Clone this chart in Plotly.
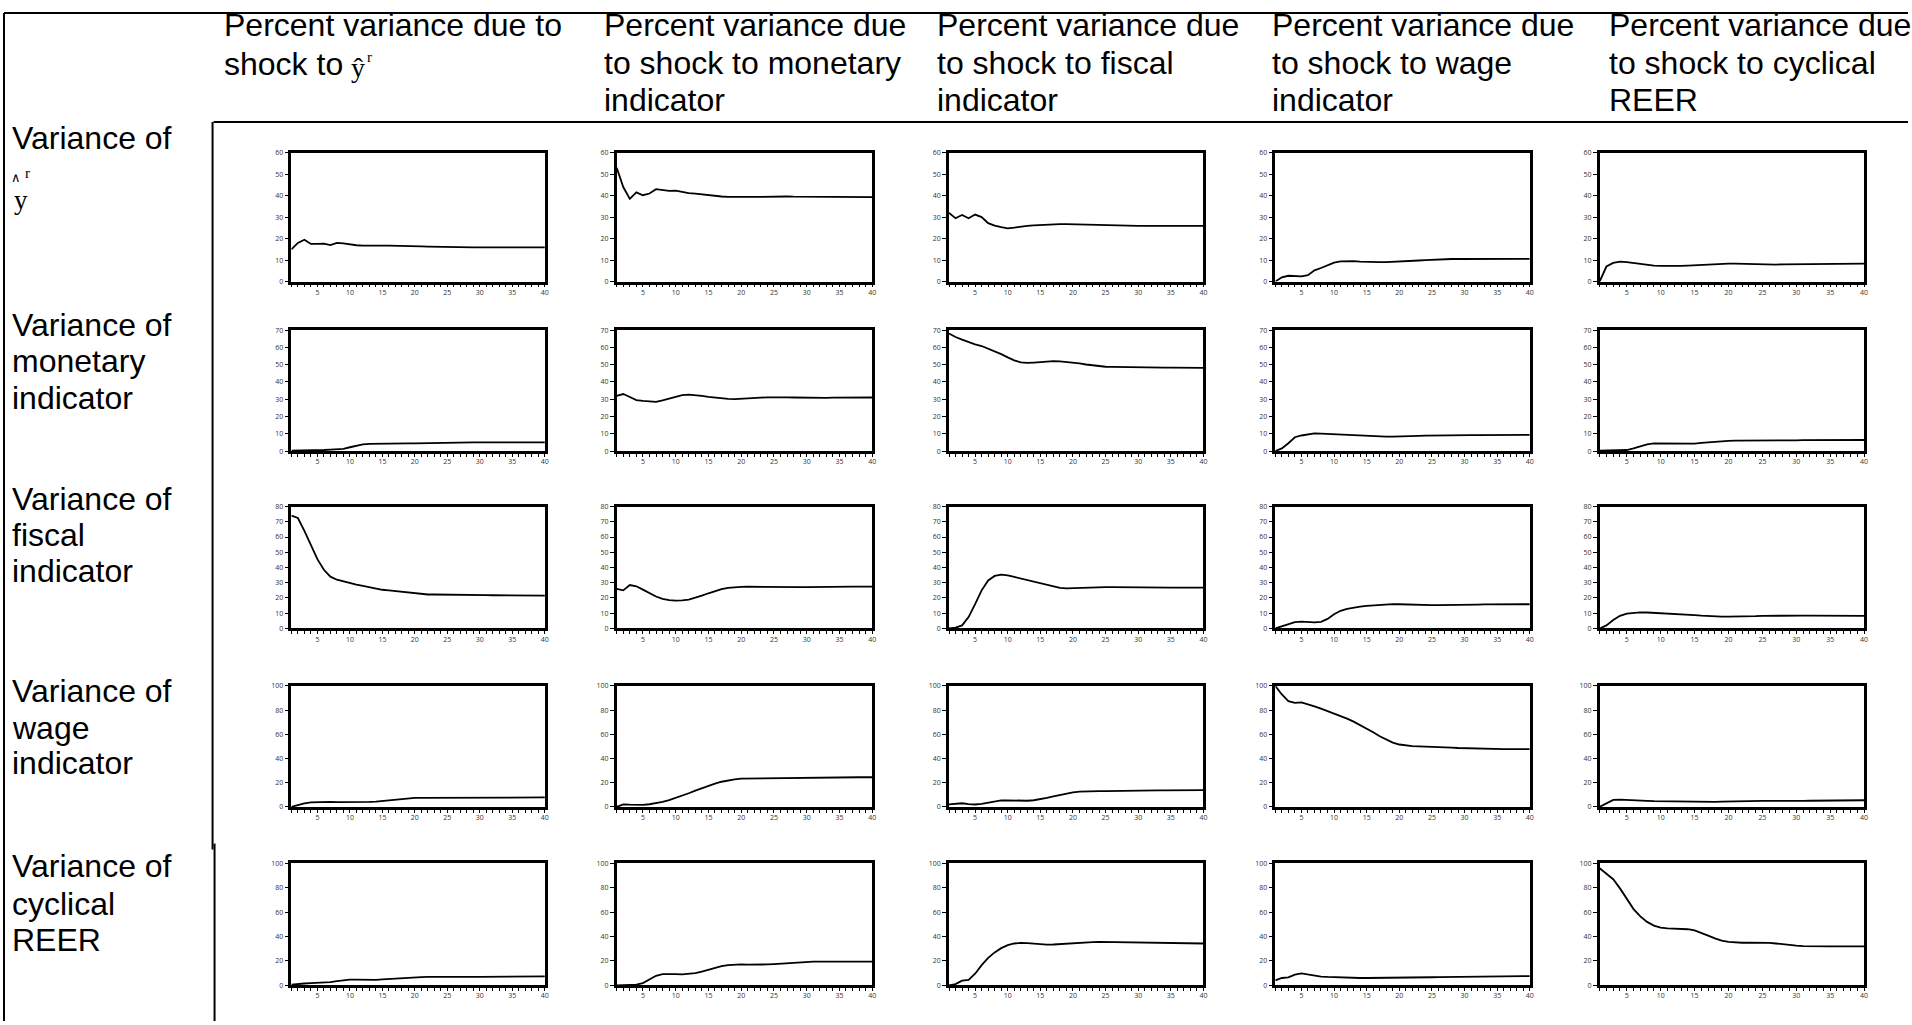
import plotly.graph_objects as go

W, H = 1912, 1025

periods = list(range(1, 41))

col_headers = [
    ["Percent variance due to", "shock to"],
    ["Percent variance due", "to shock to monetary", "indicator"],
    ["Percent variance due", "to shock to fiscal", "indicator"],
    ["Percent variance due", "to shock to wage", "indicator"],
    ["Percent variance due", "to shock to cyclical", "REER"],
]
row_labels = [
    ["Variance of"],
    ["Variance of", "monetary", "indicator"],
    ["Variance of", "fiscal", "indicator"],
    ["Variance of", "wage", "indicator"],
    ["Variance of", "cyclical", "REER"],
]
y_max = [60, 70, 80, 100, 100]
y_step = [10, 10, 10, 20, 20]

# row 1: variance of output gap
yr_yr = [15, 18, 19.5, 17.5, 17.5, 17.7, 17.0, 18.0, 17.8, 17.2, 16.9, 16.7, 16.6, 16.6, 16.7, 16.7, 16.7, 16.6, 16.6, 16.5,
         16.4, 16.3, 16.2, 16.1, 16.0, 15.9, 15.9, 15.9, 15.9, 15.9, 15.9, 15.9, 15.9, 15.9, 15.9, 15.9, 15.9, 15.9, 15.9, 15.9]
yr_mon = [53, 44, 38.5, 41.5, 40.2, 41.0, 43.0, 42.5, 42.2, 42.3, 41.7, 41.2, 40.9, 40.5, 40.1, 39.8, 39.6, 39.4, 39.3, 39.3,
          39.4, 39.4, 39.5, 39.5, 39.6, 39.6, 39.6, 39.5, 39.5, 39.4, 39.4, 39.4, 39.4, 39.3, 39.3, 39.3, 39.3, 39.3, 39.3, 39.3]
yr_fis = [32, 29.5, 31, 29.5, 31.2, 30, 27.2, 26, 25.3, 24.8, 25.1, 25.6, 25.9, 26.2, 26.4, 26.5, 26.6, 26.7, 26.7, 26.6,
          26.5, 26.4, 26.3, 26.2, 26.1, 26.0, 26.0, 25.9, 25.9, 25.9, 25.9, 25.9, 25.9, 25.9, 25.9, 25.9, 25.9, 25.9, 25.9, 25.9]
yr_wage = [0, 2.0, 2.7, 2.6, 2.4, 3.0, 5.2, 6.3, 7.6, 8.8, 9.4, 9.5, 9.5, 9.3, 9.1, 9.0, 9.0, 9.0, 9.1, 9.2,
           9.4, 9.6, 9.8, 10.0, 10.2, 10.3, 10.4, 10.5, 10.5, 10.5, 10.5, 10.5, 10.5, 10.5, 10.5, 10.5, 10.5, 10.5, 10.5, 10.6]
yr_reer = [0, 7.0, 8.7, 9.3, 9.0, 8.6, 8.1, 7.6, 7.4, 7.3, 7.2, 7.2, 7.3, 7.4, 7.6, 7.7, 7.9, 8.0, 8.2, 8.3,
           8.3, 8.2, 8.1, 8.0, 8.0, 7.9, 7.9, 8.0, 8.0, 8.1, 8.1, 8.2, 8.2, 8.3, 8.3, 8.3, 8.3, 8.3, 8.3, 8.3]

# row 2: variance of monetary indicator
mon_yr = [0.3, 0.3, 0.3, 0.4, 0.5, 0.6, 0.8, 0.9, 1.3, 2.2, 3.2, 3.9, 4.2, 4.3, 4.4, 4.5, 4.5, 4.5, 4.4, 4.4,
          4.5, 4.6, 4.7, 4.8, 4.9, 5.0, 5.0, 5.0, 5.0, 5.0, 5.0, 5.0, 5.0, 5.0, 5.0, 5.0, 5.0, 5.0, 5.0, 5.0]
mon_mon = [32, 33, 31.3, 29.5, 29.0, 28.6, 28.5, 29.3, 30.4, 31.6, 32.4, 32.7, 32.4, 31.9, 31.3, 30.8, 30.5, 30.2, 30.1, 30.2,
           30.3, 30.6, 30.9, 31.1, 31.2, 31.2, 31.1, 31.0, 30.9, 30.8, 30.8, 30.8, 30.8, 30.9, 30.9, 30.9, 31.0, 31.0, 31.0, 31.0]
mon_fis = [68, 66, 64.5, 63, 61.8, 60.8, 59.3, 57.7, 56.1, 54.2, 52.5, 51.3, 51.0, 51.2, 51.5, 51.8, 52.0, 51.9, 51.6, 51.2,
           50.7, 50.1, 49.6, 49.1, 48.8, 48.7, 48.6, 48.5, 48.5, 48.5, 48.4, 48.4, 48.3, 48.3, 48.3, 48.2, 48.2, 48.2, 48.2, 48.2]
mon_wage = [0, 1.5, 4.5, 8.0, 9.0, 9.7, 10.2, 10.1, 9.9, 9.6, 9.4, 9.2, 9.0, 8.9, 8.8, 8.7, 8.6, 8.4, 8.4, 8.4,
            8.5, 8.6, 8.8, 8.9, 9.0, 9.1, 9.2, 9.2, 9.2, 9.2, 9.2, 9.2, 9.2, 9.3, 9.3, 9.3, 9.3, 9.4, 9.4, 9.4]
mon_reer = [0.3, 0.3, 0.3, 0.3, 0.6, 1.5, 2.8, 3.9, 4.4, 4.4, 4.3, 4.1, 4.0, 4.1, 4.3, 4.7, 5.1, 5.5, 5.8, 5.9,
            6.0, 6.0, 5.9, 5.8, 5.8, 5.9, 5.9, 6.0, 6.1, 6.2, 6.3, 6.3, 6.4, 6.4, 6.4, 6.4, 6.4, 6.4, 6.4, 6.4]

# row 3: variance of fiscal indicator
fis_yr = [74, 72.5, 64, 55, 45.5, 38.5, 34.0, 32.0, 30.8, 29.8, 28.8, 27.9, 27.0, 26.1, 25.4, 25.0, 24.5, 24.0, 23.4, 22.9,
          22.5, 22.3, 22.3, 22.3, 22.3, 22.2, 22.2, 22.1, 22.0, 22.0, 21.9, 21.8, 21.8, 21.7, 21.6, 21.6, 21.6, 21.6, 21.6, 21.6]
fis_mon = [26, 25, 28.5, 27.7, 25.5, 23.2, 21.0, 19.5, 18.6, 18.3, 18.4, 19.0, 20.1, 21.5, 23.1, 24.6, 25.8, 26.6, 27.1, 27.3,
           27.4, 27.3, 27.2, 27.1, 27.0, 27.0, 27.0, 27.1, 27.1, 27.2, 27.3, 27.3, 27.4, 27.4, 27.4, 27.5, 27.5, 27.5, 27.5, 27.5]
fis_fis = [0, 0.5, 2.0, 7.5, 16.0, 25.0, 31.5, 34.5, 35.3, 34.8, 33.8, 32.8, 31.8, 30.8, 29.8, 28.7, 27.5, 26.6, 26.3, 26.5,
           26.8, 27.0, 27.1, 27.2, 27.2, 27.2, 27.1, 27.0, 26.9, 26.9, 26.8, 26.8, 26.8, 26.8, 26.8, 26.8, 26.8, 26.8, 26.8, 26.8]
fis_wage = [0, 1.5, 3.0, 4.2, 4.5, 4.3, 4.0, 4.3, 6.3, 9.3, 11.6, 12.8, 13.7, 14.3, 14.8, 15.2, 15.5, 15.8, 16.0, 15.9,
            15.7, 15.5, 15.4, 15.3, 15.3, 15.3, 15.3, 15.3, 15.4, 15.5, 15.6, 15.7, 15.8, 15.8, 15.9, 15.9, 15.9, 15.9, 15.9, 15.9]
fis_reer = [0, 2.0, 5.5, 8.3, 9.8, 10.4, 10.6, 10.5, 10.3, 10.1, 9.9, 9.6, 9.3, 9.0, 8.7, 8.4, 8.1, 7.9, 7.8, 7.8,
            7.8, 7.9, 8.0, 8.1, 8.3, 8.4, 8.5, 8.5, 8.5, 8.5, 8.4, 8.4, 8.4, 8.4, 8.3, 8.3, 8.3, 8.3, 8.3, 8.3]

# row 4: variance of wage indicator
wage_yr = [0, 1.5, 3.0, 3.8, 4.1, 4.2, 4.1, 4.0, 3.9, 3.8, 3.8, 3.9, 4.1, 4.4, 4.9, 5.6, 6.3, 6.9, 7.2, 7.4,
           7.5, 7.5, 7.5, 7.4, 7.4, 7.3, 7.3, 7.3, 7.3, 7.3, 7.4, 7.4, 7.5, 7.5, 7.6, 7.6, 7.7, 7.7, 7.8, 7.8]
wage_mon = [0, 2.0, 1.8, 1.6, 1.7, 2.2, 3.0, 4.2, 5.6, 7.3, 9.2, 11.3, 13.4, 15.5, 17.5, 19.3, 20.8, 22.0, 22.8, 23.3,
            23.4, 23.3, 23.1, 23.1, 23.3, 23.5, 23.7, 23.9, 24.1, 24.2, 24.3, 24.4, 24.5, 24.5, 24.5, 24.5, 24.5, 24.5, 24.5, 24.5]
wage_fis = [2.0, 2.6, 3.0, 2.3, 2.0, 2.5, 3.5, 4.6, 5.3, 5.4, 5.2, 5.0, 5.1, 5.5, 6.3, 7.4, 8.7, 10.0, 11.2, 12.1,
            12.7, 13.0, 13.1, 13.1, 13.0, 13.0, 13.0, 13.1, 13.2, 13.3, 13.4, 13.5, 13.6, 13.7, 13.7, 13.8, 13.8, 13.8, 13.8, 13.8]
wage_wage = [100, 93, 87.5, 86.0, 86.5, 85.0, 83.2, 81.3, 79.3, 77.4, 75.3, 73.0, 70.5, 67.8, 64.9, 61.7, 58.4, 55.5, 53.2, 51.6,
             50.7, 50.2, 50.0, 49.9, 49.8, 49.6, 49.3, 49.0, 48.7, 48.5, 48.3, 48.2, 48.1, 48.0, 47.9, 47.8, 47.8, 47.7, 47.7, 47.7]
wage_reer = [0, 3.0, 5.8, 6.0, 5.6, 5.3, 5.1, 4.9, 4.7, 4.6, 4.4, 4.2, 4.0, 3.9, 3.8, 3.8, 3.9, 4.1, 4.3, 4.5,
             4.7, 4.9, 5.0, 5.0, 5.0, 5.0, 4.9, 4.9, 4.9, 5.0, 5.0, 5.1, 5.1, 5.2, 5.2, 5.3, 5.3, 5.4, 5.4, 5.5]

# row 5: variance of cyclical REER
reer_yr = [0.5, 1.2, 1.5, 1.8, 2.0, 2.2, 2.7, 3.4, 4.2, 4.6, 4.6, 4.4, 4.3, 4.5, 4.8, 5.2, 5.6, 6.0, 6.3, 6.6,
           6.8, 6.9, 7.0, 7.0, 7.0, 7.0, 7.0, 7.0, 7.0, 7.0, 7.0, 7.1, 7.1, 7.2, 7.2, 7.2, 7.2, 7.3, 7.3, 7.3]
reer_mon = [0, 0, 0.2, 0.5, 1.8, 4.8, 7.8, 9.2, 9.4, 9.2, 9.0, 9.2, 10.0, 11.3, 12.9, 14.5, 15.8, 16.6, 17.0, 17.1,
            17.0, 16.9, 16.9, 17.1, 17.4, 17.8, 18.2, 18.6, 18.9, 19.2, 19.4, 19.5, 19.5, 19.5, 19.5, 19.5, 19.5, 19.5, 19.5, 19.5]
reer_fis = [0, 1.0, 3.8, 4.5, 9.5, 16.5, 22.5, 27.0, 30.5, 33.0, 34.3, 34.8, 34.6, 34.0, 33.4, 33.3, 33.5, 33.9, 34.3, 34.7,
            35.0, 35.3, 35.5, 35.6, 35.5, 35.4, 35.2, 35.0, 34.8, 34.7, 34.6, 34.5, 34.5, 34.5, 34.4, 34.4, 34.4, 34.3, 34.3, 34.3]
reer_wage = [4.0, 6.0, 6.5, 8.8, 9.8, 8.9, 7.8, 7.2, 6.9, 6.6, 6.4, 6.2, 6.1, 6.0, 6.0, 6.0, 6.1, 6.2, 6.3, 6.4,
             6.5, 6.5, 6.5, 6.5, 6.6, 6.7, 6.8, 7.0, 7.1, 7.2, 7.3, 7.4, 7.5, 7.5, 7.5, 7.5, 7.5, 7.5, 7.5, 7.5]
reer_reer = [96, 91.5, 87.0, 79.5, 70.5, 62.5, 56.5, 52.0, 49.0, 47.3, 46.7, 46.6, 46.5, 46.0, 45.0, 43.2, 40.8, 38.5, 36.7, 35.6,
             35.1, 34.9, 34.9, 35.0, 35.0, 34.8, 34.3, 33.6, 33.0, 32.5, 32.2, 32.0, 31.9, 31.9, 31.9, 31.9, 31.9, 31.9, 31.9, 31.9]

grid = [
    [yr_yr, yr_mon, yr_fis, yr_wage, yr_reer],
    [mon_yr, mon_mon, mon_fis, mon_wage, mon_reer],
    [fis_yr, fis_mon, fis_fis, fis_wage, fis_reer],
    [wage_yr, wage_mon, wage_fis, wage_wage, wage_reer],
    [reer_yr, reer_mon, reer_fis, reer_wage, reer_reer],
]

# panel boxes in page pixels
col_left = [292, 618, 951, 1278, 1603]
col_right = [546, 874, 1206, 1533, 1868]
row_top = [149, 328, 506, 687, 866]
row_bottom = [279, 450, 629, 809, 989]


def fx(px):
    return px / W


def fy(py):
    return 1 - py / H


fig = go.Figure()
layout_axes = {}
n = 0
for r in range(5):
    for c in range(5):
        n += 1
        sfx = "" if n == 1 else str(n)
        fig.add_trace(go.Scatter(
            x=periods, y=grid[r][c], mode="lines",
            line=dict(color="black", width=1.8),
            xaxis="x" + sfx, yaxis="y" + sfx,
            showlegend=False, hoverinfo="skip",
        ))
        layout_axes["xaxis" + sfx] = dict(
            domain=[fx(col_left[c]), fx(col_right[c])],
            anchor="y" + sfx, range=[1, 40],
            tick0=0, dtick=5, ticks="outside", ticklen=3, tickwidth=1,
            tickcolor="black", ticklabelstandoff=-1,
            minor=dict(dtick=1, tick0=0, ticks="outside", ticklen=3,
                       tickwidth=1, tickcolor="black"),
            showline=True, linecolor="black", linewidth=2.5, mirror=True,
            showgrid=False, zeroline=False, fixedrange=True,
            tickfont=dict(size=7, color="#333333"),
        )
        layout_axes["yaxis" + sfx] = dict(
            domain=[fy(row_bottom[r]), fy(row_top[r])],
            anchor="x" + sfx, range=[0, y_max[r]],
            tick0=0, dtick=y_step[r], ticks="outside", ticklen=4,
            tickwidth=1, tickcolor="black",
            showline=True, linecolor="black", linewidth=2.5, mirror=True,
            showgrid=False, zeroline=False, fixedrange=True,
            tickfont=dict(size=7, color="#333333"),
        )

annotations = []
font_main = dict(family="Liberation Sans, Arial, sans-serif", size=32, color="black")
font_serif = "Liberation Serif, Times New Roman, serif"


def note(x, y, text, font):
    return dict(x=fx(x), y=fy(y), xref="paper", yref="paper", text=text,
                showarrow=False, xanchor="left", yanchor="middle", font=font)


# column headers
head_x = [222, 603, 937, 1273, 1610]
head_y = [20, 59, 96]
for c, lines in enumerate(col_headers):
    for i, txt in enumerate(lines):
        yy = head_y[i]
        if c == 0 and i == 1:
            yy = 60
        annotations.append(note(head_x[c], yy, txt, font_main))
# y-hat with superscript r after "shock to"
annotations += [
    note(350, 63, "\u0177", dict(family=font_serif, size=28, color="black")),
    note(366, 52, "r", dict(family=font_serif, size=15, color="black")),
]

# row labels
label_y = [[134], [323, 359, 396], [498, 535, 571], [692, 729, 765], [869, 907, 943]]
for r, lines in enumerate(row_labels):
    for i, txt in enumerate(lines):
        annotations.append(note(10, label_y[r][i], txt, font_main))
annotations += [
    note(12, 197, "y", dict(family=font_serif, size=27, color="black")),
    note(9, 174, "\u2227", dict(family=font_serif, size=13, color="black")),
    note(23, 169, "r", dict(family=font_serif, size=15, color="black")),
]

# table rules
rule = dict(color="black", width=2)
shapes = [
    dict(type="line", xref="paper", yref="paper", x0=fx(4), x1=fx(4), y0=fy(8), y1=fy(1025), line=rule),
    dict(type="line", xref="paper", yref="paper", x0=fx(4), x1=fx(1912), y0=fy(8), y1=fy(8), line=rule),
    dict(type="line", xref="paper", yref="paper", x0=fx(214), x1=fx(1912), y0=fy(118), y1=fy(118), line=rule),
    dict(type="line", xref="paper", yref="paper", x0=fx(213), x1=fx(213), y0=fy(118), y1=fy(852), line=rule),
    dict(type="line", xref="paper", yref="paper", x0=fx(215), x1=fx(215), y0=fy(846), y1=fy(1025), line=rule),
]

fig.update_layout(
    width=W, height=H,
    margin=dict(l=0, r=0, t=0, b=0),
    paper_bgcolor="white", plot_bgcolor="white",
    annotations=annotations, shapes=shapes,
    **layout_axes,
)

fig.write_html("out.html", config={"displayModeBar": False},
               post_script="document.body.style.margin='0';")
